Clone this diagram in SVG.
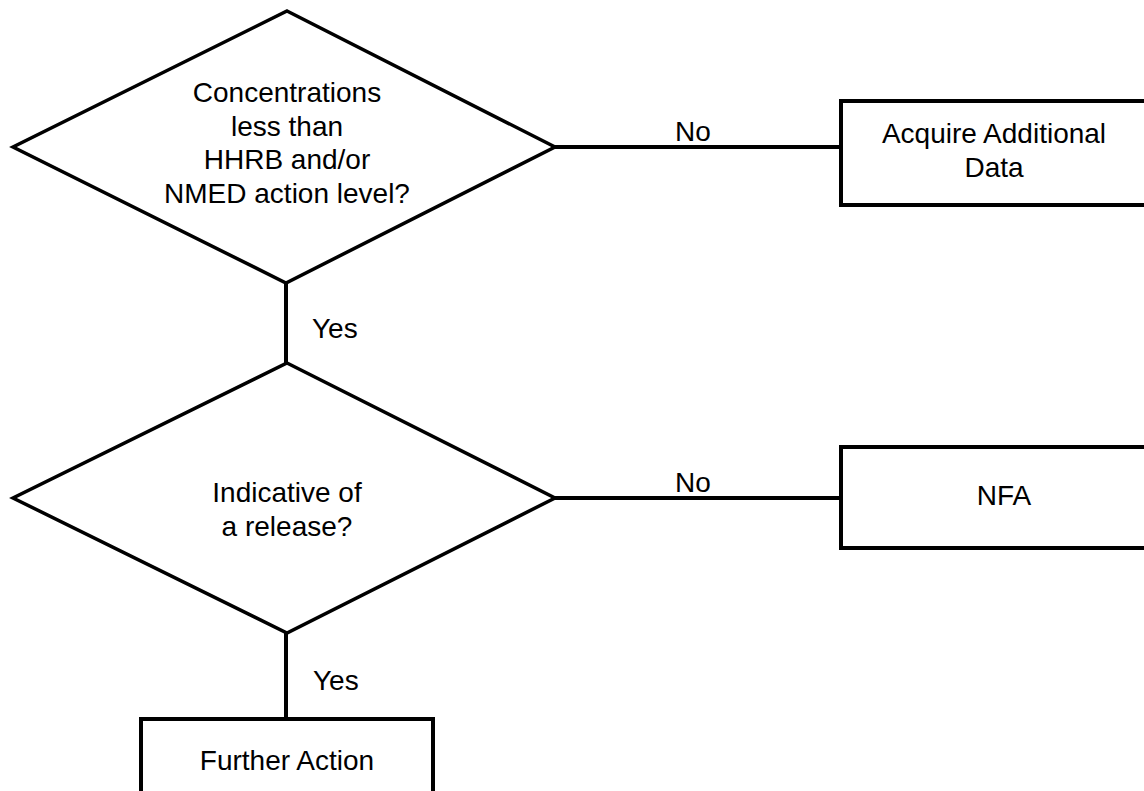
<svg xmlns="http://www.w3.org/2000/svg" width="1144" height="791" viewBox="0 0 1144 791">
  <style>
    .shape { fill: #ffffff; stroke: #000000; stroke-width: 4; stroke-linejoin: miter; }
    .decision { fill: #ffffff; stroke: #000000; stroke-width: 3.5; stroke-linejoin: miter; }
    .link { fill: none; stroke: #000000; stroke-width: 4; }
    text { font-family: "Liberation Sans", Arial, sans-serif; font-size: 28px; fill: #000000; }
    .mid { text-anchor: middle; }
  </style>
  <rect width="1144" height="791" fill="#ffffff"/>

  <!-- connectors -->
  <g id="connectors">
    <line class="link" x1="555" y1="147" x2="841" y2="147"/>
    <line class="link" x1="286" y1="283" x2="286" y2="363"/>
    <line class="link" x1="555" y1="498" x2="841" y2="498"/>
    <line class="link" x1="286" y1="633" x2="286" y2="719"/>
    <text x="693" y="141" class="mid">No</text>
    <text x="312" y="338">Yes</text>
    <text x="693" y="492" class="mid">No</text>
    <text x="313" y="690">Yes</text>
  </g>

  <!-- decision: concentrations -->
  <g id="decision-concentrations">
    <polygon class="decision" points="287,11 555,147 286,283 13,147"/>
    <text class="mid" x="287" y="102">Concentrations</text>
    <text class="mid" x="287" y="136">less than</text>
    <text class="mid" x="287" y="169">HHRB and/or</text>
    <text class="mid" x="287" y="203">NMED action level?</text>
  </g>

  <!-- action: acquire data -->
  <g id="box-acquire">
    <rect class="shape" x="841" y="101" width="308" height="104"/>
    <text class="mid" x="994" y="143">Acquire Additional</text>
    <text class="mid" x="994" y="177">Data</text>
  </g>

  <!-- decision: release -->
  <g id="decision-release">
    <polygon class="decision" points="287,363 555,498 287,633 13,498"/>
    <text class="mid" x="287" y="502">Indicative of</text>
    <text class="mid" x="287" y="536">a release?</text>
  </g>

  <!-- action: NFA -->
  <g id="box-nfa">
    <rect class="shape" x="841" y="447" width="310" height="101"/>
    <text class="mid" x="1004" y="505">NFA</text>
  </g>

  <!-- action: further action -->
  <g id="box-further">
    <rect class="shape" x="141" y="719" width="292" height="90"/>
    <text class="mid" x="287" y="770">Further Action</text>
  </g>
</svg>
